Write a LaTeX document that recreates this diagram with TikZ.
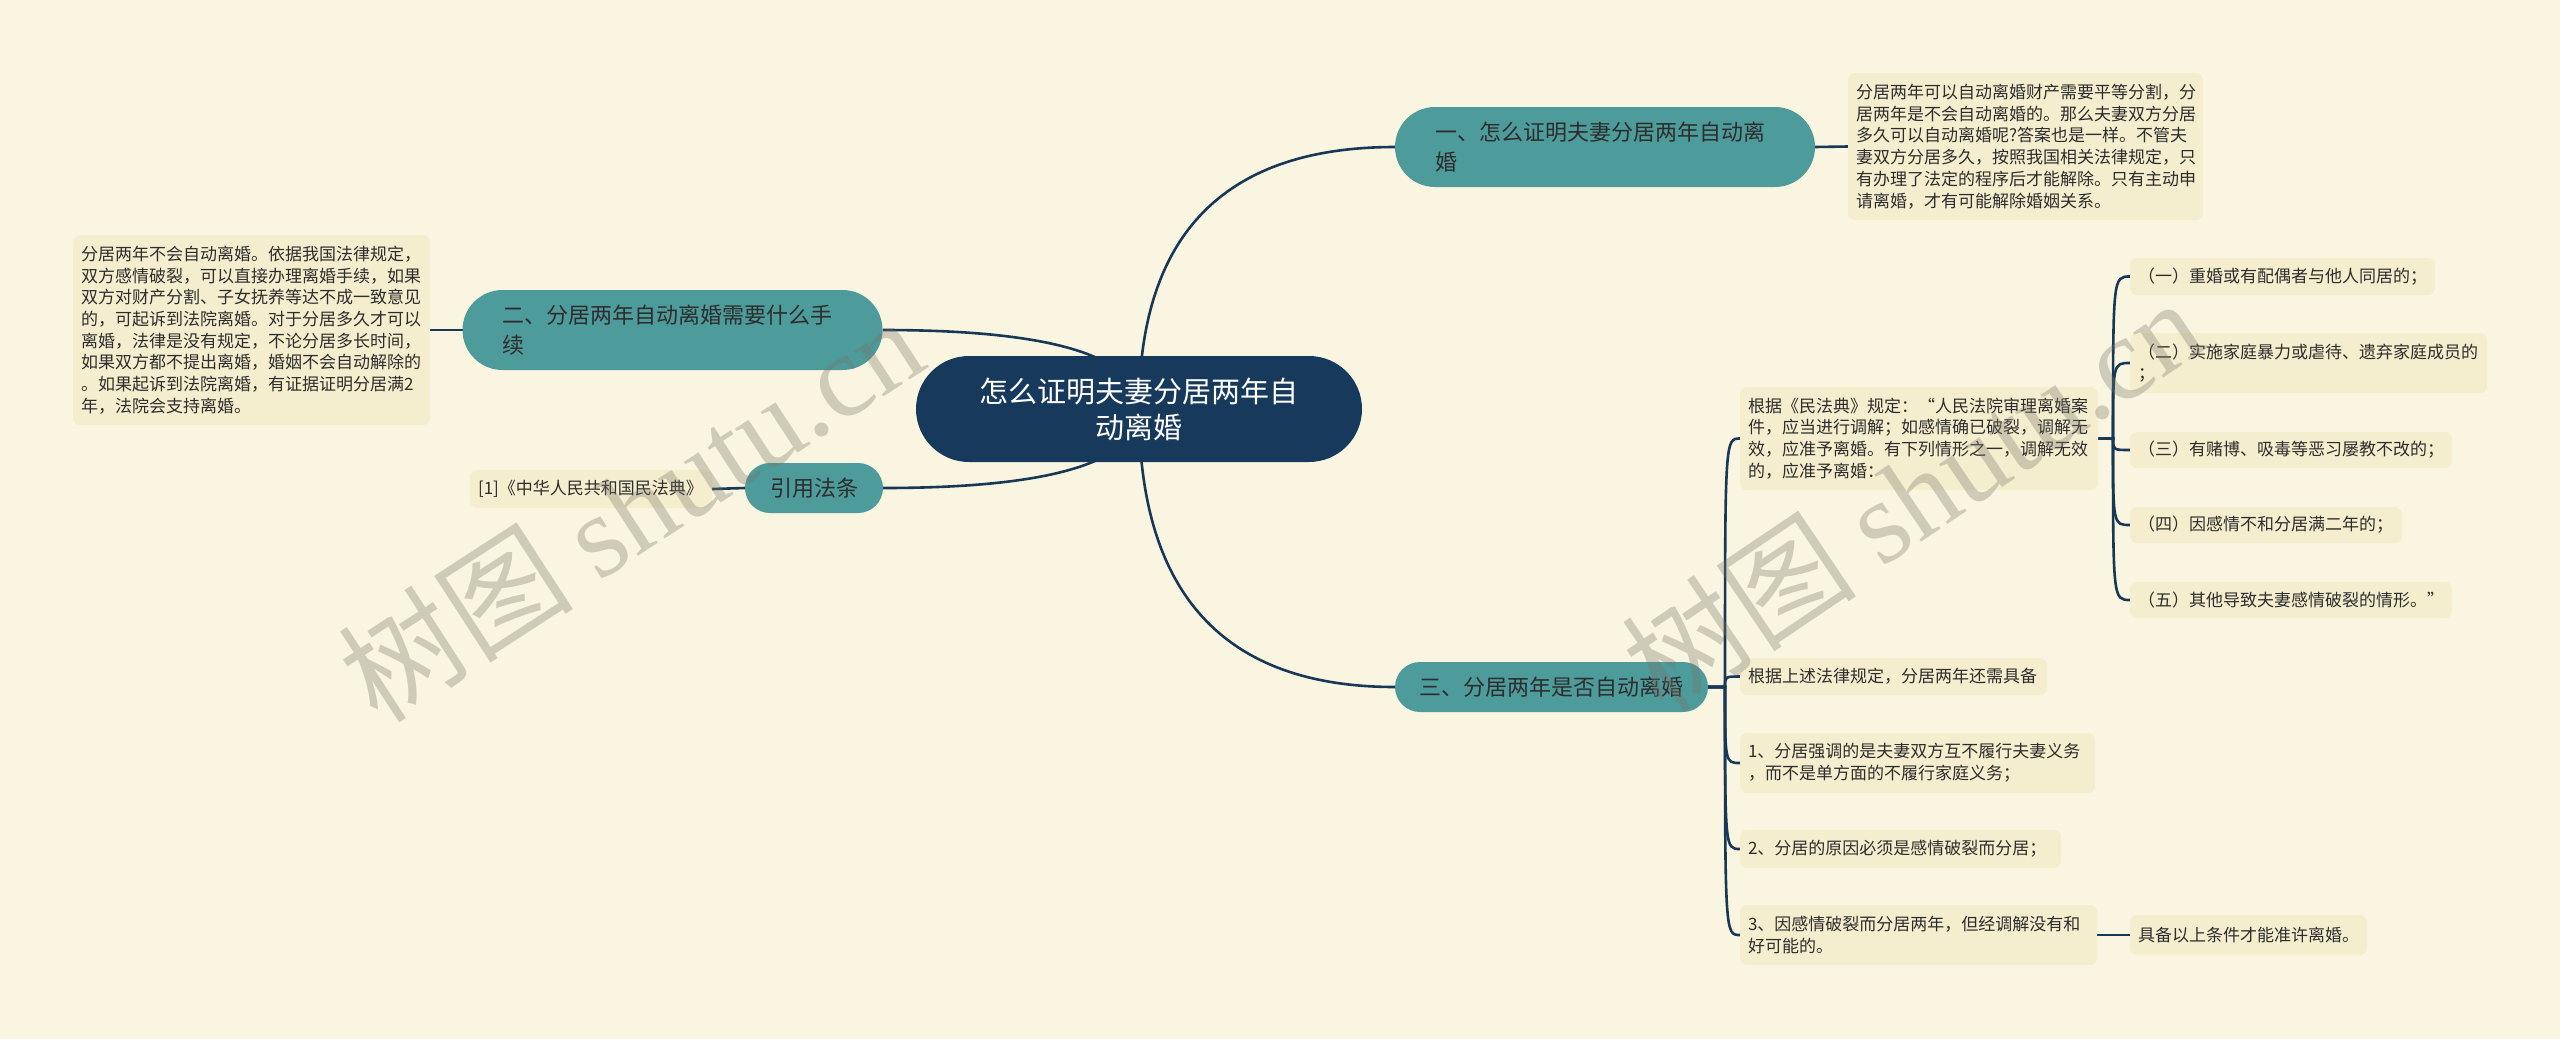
\documentclass[tikz,border=0pt]{standalone}
\usepackage{fontspec}
\setmainfont{Noto Sans CJK SC}
\newfontfamily\wmlatin{Liberation Serif}
\usetikzlibrary{calc}
\definecolor{bgc}{RGB}{250,245,225}
\definecolor{leafc}{RGB}{244,238,207}
\definecolor{brc}{RGB}{78,155,156}
\definecolor{rootc}{RGB}{23,58,92}
\definecolor{linec}{RGB}{24,56,88}
\definecolor{txtc}{RGB}{45,45,45}
\definecolor{wmc}{RGB}{120,118,105}
\pgfdeclarelayer{bg}
\pgfdeclarelayer{lines}
\pgfsetlayers{bg,lines,main}
\tikzset{
  base/.style={inner ysep=0pt, outer sep=0pt, text=txtc},
  rootbox/.style={base, fill=rootc, text=white, rounded corners=53pt, minimum width=446pt, minimum height=106pt, align=center, font=\fontsize{29}{36}\selectfont, inner xsep=0pt},
  branch/.style={base, fill=brc, rounded corners=25pt, font=\fontsize{22}{30}\selectfont, inner xsep=0pt, align=center, minimum height=50pt},
  branchtwo/.style={base, fill=brc, rounded corners=40pt, font=\fontsize{22}{30}\selectfont, align=left, inner xsep=40pt, text width=340pt, minimum height=80pt},
  leaf/.style={base, fill=leafc, rounded corners=7pt, font=\fontsize{17}{21.7}\selectfont, align=left, inner xsep=8pt},
  link/.style={draw=linec, line width=2.6pt},
  wm/.style={text=wmc, opacity=0.33, font=\fontsize{118}{118}\selectfont, inner sep=0pt}
}
\begin{document}
\begin{tikzpicture}[x=1pt,y=-1pt]
\useasboundingbox (0,0) rectangle (2560,1039);
\begin{pgfonlayer}{bg}
\fill[bgc] (0,0) rectangle (2560,1039);
\end{pgfonlayer}

% root and main branches
\node[rootbox] (root) at (1139,409) {怎么证明夫妻分居两年自\\动离婚};
\node[branchtwo] (b1) at (1605,147) {一、怎么证明夫妻分居两年自动离\\婚};
\node[branchtwo] (b2) at (672.5,330) {二、分居两年自动离婚需要什么手\\续};
\node[branch, minimum width=313pt] (b3) at (1551.5,687) {三、分居两年是否自动离婚};
\node[branch, minimum width=138pt] (b4) at (814,488) {引用法条};

% leaves
\node[leaf, text width=339pt, minimum height=147pt] (l1) at (2025.5,146.5) {分居两年可以自动离婚财产需要平等分割，分\\居两年是不会自动离婚的。那么夫妻双方分居\\多久可以自动离婚呢?答案也是一样。不管夫\\妻双方分居多久，按照我国相关法律规定，只\\有办理了法定的程序后才能解除。只有主动申\\请离婚，才有可能解除婚姻关系。};
\node[leaf, text width=341pt, minimum height=190pt] (l2) at (251.5,330) {分居两年不会自动离婚。依据我国法律规定，\\双方感情破裂，可以直接办理离婚手续，如果\\双方对财产分割、子女抚养等达不成一致意见\\的，可起诉到法院离婚。对于分居多久才可以\\离婚，法律是没有规定，不论分居多长时间，\\如果双方都不提出离婚，婚姻不会自动解除的\\。如果起诉到法院离婚，有证据证明分居满2\\年，法院会支持离婚。};
\node[leaf, text width=226pt, minimum height=38pt] (ref) at (591,489) {[1]《中华人民共和国民法典》};

\node[leaf, text width=342pt, minimum height=103pt] (law) at (1919,438.5) {根据《民法典》规定：“人民法院审理离婚案\\件，应当进行调解；如感情确已破裂，调解无\\效，应准予离婚。有下列情形之一，调解无效\\的，应准予离婚：};
\node[leaf, text width=289pt, minimum height=37pt] (i1) at (2282.5,276.5) {（一）重婚或有配偶者与他人同居的；};
\node[leaf, text width=341pt, minimum height=60pt] (i2) at (2308.5,363) {（二）实施家庭暴力或虐待、遗弃家庭成员的\\；};
\node[leaf, text width=306pt, minimum height=36pt] (i3) at (2291,450) {（三）有赌博、吸毒等恶习屡教不改的；};
\node[leaf, text width=256pt, minimum height=36pt] (i4) at (2266,525) {（四）因感情不和分居满二年的；};
\node[leaf, text width=306pt, minimum height=36pt] (i5) at (2291,600) {（五）其他导致夫妻感情破裂的情形。”};

\node[leaf, text width=291pt, minimum height=37pt] (c0) at (1893.5,676.5) {根据上述法律规定，分居两年还需具备};
\node[leaf, text width=339pt, minimum height=60pt] (c1) at (1917.5,763) {1、分居强调的是夫妻双方互不履行夫妻义务\\，而不是单方面的不履行家庭义务；};
\node[leaf, text width=305pt, minimum height=38pt] (c2) at (1900.5,849) {2、分居的原因必须是感情破裂而分居；};
\node[leaf, text width=341pt, minimum height=60pt] (c3) at (1918.5,935) {3、因感情破裂而分居两年，但经调解没有和\\好可能的。};
\node[leaf, text width=221pt, minimum height=40pt] (jb) at (2248.5,935) {具备以上条件才能准许离婚。};

% connectors
\begin{pgfonlayer}{lines}
\draw[link] (root.center) .. controls ($(root.center)!0.6667!(root.center|-b1.west)$) and ($(b1.west)!0.6667!(root.center|-b1.west)$) .. (b1.west);
\draw[link] (root.center) .. controls ($(root.center)!0.6667!(root.center|-b3.west)$) and ($(b3.west)!0.6667!(root.center|-b3.west)$) .. (b3.west);
\draw[link] (root.center) .. controls ($(root.center)!0.6667!(root.center|-b2.east)$) and ($(b2.east)!0.6667!(root.center|-b2.east)$) .. (b2.east);
\draw[link] (root.center) .. controls ($(root.center)!0.6667!(root.center|-b4.east)$) and ($(b4.east)!0.6667!(root.center|-b4.east)$) .. (b4.east);
\draw[link] (b1.east) -- (l1.west);
\draw[link] (b2.west) -- (l2.east);
\draw[link] (b4.west) -- (ref.east);
\coordinate (s3) at (1725,687);
\foreach \c in {law,c0,c1,c2,c3}{
  \draw[link] (b3.east) -- (s3) .. controls (s3|-\c.west) .. (\c.west);
}
\coordinate (s4) at (2113,438.5);
\foreach \c in {i1,i2,i3,i4,i5}{
  \draw[link] (law.east) -- (s4) .. controls (s4|-\c.west) .. (\c.west);
}
\draw[link] (c3.east) -- (jb.west);
\end{pgfonlayer}

% watermarks
\node[wm, rotate=33] (wm1) at (630,508) {树图 {\wmlatin shutu.cn}};
\node[wm, rotate=34] (wm2) at (1912,494) {树图 {\wmlatin shutu.cn}};
\end{tikzpicture}
\end{document}
